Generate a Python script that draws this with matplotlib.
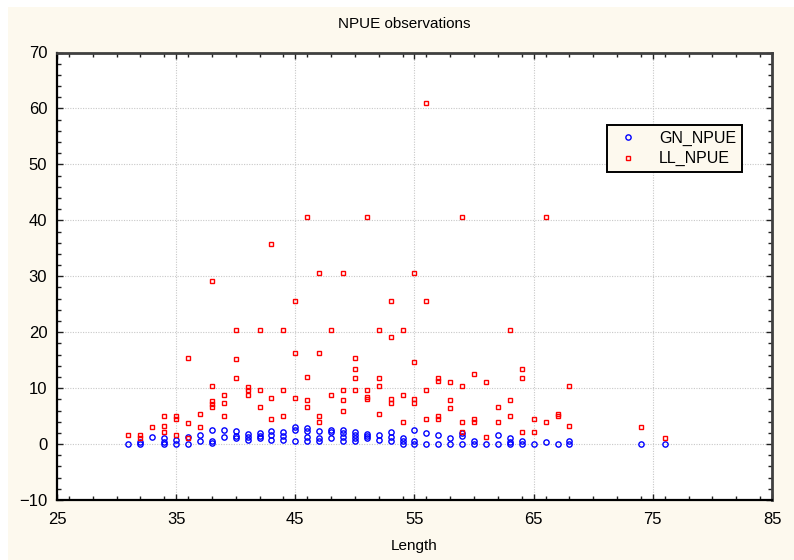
import matplotlib
matplotlib.use("Agg")
import matplotlib.pyplot as plt
from matplotlib.patches import Rectangle
from matplotlib.ticker import MultipleLocator

plt.rcParams['font.family'] = ['Liberation Sans', 'DejaVu Sans']

# Gillnet NPUE observations by length
gn_length = [31, 32, 32, 33, 34, 34, 34, 35, 35, 36, 36, 37, 37, 38, 38, 38,
             39, 39, 40, 40, 40, 41, 41, 41, 42, 42, 42, 43, 43, 43, 44, 44, 44,
             45, 45, 45, 46, 46, 46, 46, 47, 47, 47, 48, 48, 48, 49, 49, 49, 49,
             50, 50, 50, 50, 51, 51, 51, 52, 52, 53, 53, 53, 54, 54, 54,
             55, 55, 55, 56, 56, 57, 57, 58, 58, 59, 59, 59, 60, 60, 61,
             62, 62, 63, 63, 63, 64, 64, 65, 66, 67, 68, 68, 74, 76]
gn_npue = [0.1, 0.4, 0.0, 1.3, 1.0, 0.4, 0.0, 0.8, 0.0, 1.3, 0.1, 1.7, 0.5, 2.6, 0.5, 0.2,
           2.5, 1.2, 2.3, 1.4, 1.0, 1.8, 1.3, 0.8, 2.0, 1.4, 1.0, 2.4, 1.6, 0.8, 2.2, 1.4, 0.8,
           3.0, 2.5, 0.6, 2.9, 2.3, 1.2, 0.5, 2.4, 1.1, 0.5, 2.6, 2.2, 1.1, 2.5, 1.9, 1.2, 0.5,
           2.2, 1.6, 1.1, 0.5, 1.8, 1.4, 1.0, 1.6, 0.8, 2.2, 1.3, 0.5, 1.1, 0.5, 0.0,
           2.5, 0.6, 0.1, 2.0, 0.1, 1.6, 0.1, 1.0, 0.1, 1.9, 1.4, 0.1, 0.5, 0.0, 0.0,
           1.7, 0.0, 1.0, 0.4, 0.1, 0.5, 0.0, 0.0, 0.4, 0.0, 0.5, 0.0, 0.0, 0.0]

# Longline NPUE observations by length
ll_length = [31, 32, 32, 33, 34, 34, 34, 35, 35, 35, 36, 36, 36, 37, 37,
             38, 38, 38, 38, 38, 39, 39, 39, 40, 40, 40, 41, 41, 41, 42, 42, 42,
             43, 43, 43, 44, 44, 44, 45, 45, 45, 46, 46, 46, 46, 47, 47, 47, 47,
             48, 48, 49, 49, 49, 49, 50, 50, 50, 50, 51, 51, 51, 51,
             52, 52, 52, 52, 53, 53, 53, 53, 54, 54, 54, 55, 55, 55, 55,
             56, 56, 56, 56, 57, 57, 57, 57, 58, 58, 58, 59, 59, 59, 59,
             60, 60, 60, 61, 61, 62, 62, 63, 63, 63, 64, 64, 64, 65, 65,
             66, 66, 67, 67, 68, 68, 74, 76]
ll_npue = [1.6, 1.6, 1.0, 3.0, 5.1, 3.2, 2.2, 5.1, 4.4, 1.6, 15.4, 3.7, 1.1, 5.4, 3.0,
           29.1, 10.3, 7.7, 7.2, 6.6, 8.7, 7.3, 5.1, 20.4, 15.2, 11.8, 10.2, 9.6, 8.8, 20.4, 9.7, 6.6,
           35.7, 8.2, 4.4, 20.4, 9.7, 5.1, 25.5, 16.2, 8.2, 40.6, 11.9, 7.9, 6.6, 30.6, 16.2, 5.1, 3.9,
           20.4, 8.8, 30.6, 9.7, 7.9, 6.0, 15.4, 13.4, 11.8, 9.7, 40.6, 9.7, 8.4, 8.0,
           20.4, 11.8, 10.3, 5.4, 25.5, 19.2, 8.0, 7.4, 20.4, 8.7, 3.9, 30.6, 14.6, 8.0, 7.4,
           60.9, 25.5, 9.6, 4.4, 11.8, 11.2, 5.1, 4.5, 11.1, 7.9, 6.5, 40.6, 10.3, 3.9, 2.1,
           12.5, 4.5, 3.9, 11.1, 1.2, 6.6, 3.9, 20.4, 7.9, 5.1, 13.4, 11.8, 2.1, 4.4, 2.1,
           40.6, 3.9, 5.4, 5.1, 10.3, 3.2, 3.0, 1.1]

x_ticks = [25, 35, 45, 55, 65, 75, 85]
y_ticks = [-10, 0, 10, 20, 30, 40, 50, 60, 70]

cream = '#FDF9EE'

fig = plt.figure(figsize=(7.94, 5.60), dpi=100)
fig.patch.set_facecolor('white')
fig.patches.append(Rectangle((8 / 794, 0), 1 - 8 / 794, 1 - 7 / 560,
                             transform=fig.transFigure, facecolor=cream,
                             edgecolor='none', zorder=-10))

ax = fig.add_axes([57 / 794, 1 - 500 / 560, (772 - 57) / 794, (500 - 52.5) / 560])
ax.set_facecolor('white')

ax.plot(gn_length, gn_npue, linestyle='none', marker='o', markersize=3.8,
        markerfacecolor='none', markeredgecolor='#0000FF', markeredgewidth=1.0,
        label='GN_NPUE', zorder=3)
ax.plot(ll_length, ll_npue, linestyle='none', marker='s', markersize=3.4,
        markerfacecolor='none', markeredgecolor='#FF0000', markeredgewidth=1.0,
        label='LL_NPUE', zorder=3)

ax.set_xlim(25, 85)
ax.set_ylim(-10, 70)
ax.set_xticks(x_ticks)
ax.set_yticks(y_ticks)
ax.xaxis.set_minor_locator(MultipleLocator(2))
ax.yaxis.set_minor_locator(MultipleLocator(2))
ax.tick_params(which='both', direction='in', top=True, right=True,
               labelsize=12, color='#202020', width=1.0)
ax.tick_params(which='major', length=4)
ax.tick_params(which='minor', length=3)
ax.tick_params(axis='x', which='major', pad=9)
ax.tick_params(axis='y', which='major', pad=7)

ax.grid(True, which='major', color='#C8C8C8', linestyle=(0, (1.0, 1.3)), linewidth=0.8)
ax.set_axisbelow(True)

for side in ('left', 'bottom'):
    ax.spines[side].set_color('black')
    ax.spines[side].set_linewidth(1.6)
for side in ('top', 'right'):
    ax.spines[side].set_color('#404040')
    ax.spines[side].set_linewidth(2.0)

ax.set_xlabel('Length', fontsize=11, labelpad=8)
fig.text(404 / 794, 1 - 24 / 560, 'NPUE observations', ha='center', va='center',
         fontsize=11)

leg = ax.legend(loc='upper left', bbox_to_anchor=((607 - 57) / 715, (500 - 125) / 447.5),
                fontsize=11.5, frameon=True, fancybox=False, handlelength=1.9,
                handletextpad=1.0, borderpad=0.35, labelspacing=0.35,
                borderaxespad=0, markerscale=1.0)
leg.get_frame().set_facecolor(cream)
leg.get_frame().set_edgecolor('black')
leg.get_frame().set_linewidth(1.4)
leg.get_frame().set_alpha(1)

fig.savefig('out.png', dpi=100, facecolor=fig.get_facecolor())
